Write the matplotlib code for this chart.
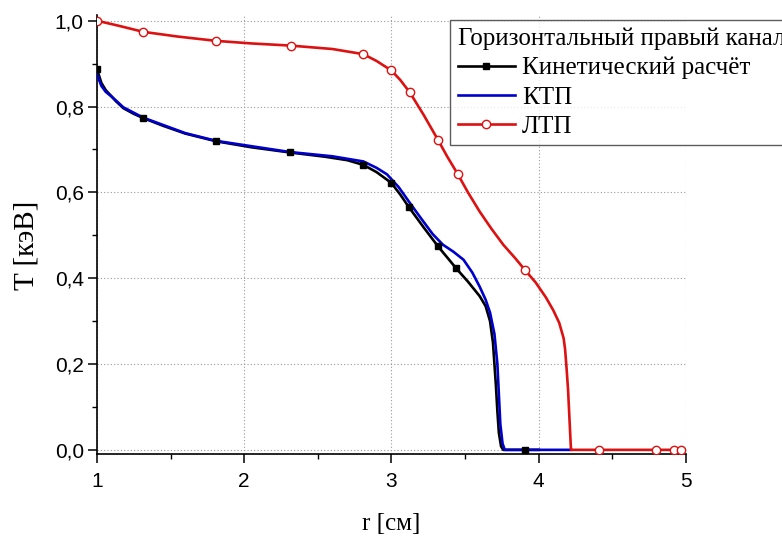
import matplotlib
matplotlib.use("Agg")
import matplotlib.pyplot as plt
from matplotlib.lines import Line2D
from matplotlib.ticker import MultipleLocator, FuncFormatter

# kinetic calculation (black)
kin_r = [1.0, 1.03, 1.06, 1.09, 1.13, 1.18, 1.25, 1.315, 1.45, 1.6, 1.81, 2.05, 2.31,
         2.55, 2.7, 2.81, 2.9, 3.0, 3.06, 3.12, 3.22, 3.317, 3.38, 3.44, 3.52, 3.6,
         3.64, 3.67, 3.69, 3.70, 3.71, 3.72, 3.73, 3.745, 3.76, 4.0]
kin_T = [0.887, 0.855, 0.838, 0.827, 0.812, 0.796, 0.783, 0.773, 0.755, 0.737, 0.719, 0.705, 0.693,
         0.683, 0.675, 0.664, 0.647, 0.622, 0.595, 0.565, 0.518, 0.474, 0.448, 0.423, 0.392, 0.358,
         0.335, 0.300, 0.250, 0.200, 0.150, 0.090, 0.040, 0.008, 0.0, 0.0]
kin_mr = [1.0, 1.315, 1.81, 2.31, 2.81, 3.0, 3.12, 3.317, 3.44, 3.91]
kin_mT = [0.887, 0.773, 0.719, 0.693, 0.664, 0.622, 0.565, 0.474, 0.423, 0.0]

# KTP (blue)
ktp_r = [1.0, 1.03, 1.06, 1.1, 1.18, 1.315, 1.6, 1.81, 2.31, 2.6, 2.81, 2.9, 2.97, 3.05,
         3.12, 3.2, 3.28, 3.35, 3.42, 3.49, 3.55, 3.6, 3.64, 3.67, 3.70, 3.72, 3.73, 3.74,
         3.755, 3.77, 4.22]
ktp_T = [0.875, 0.848, 0.834, 0.823, 0.798, 0.774, 0.738, 0.720, 0.694, 0.684, 0.672, 0.657, 0.642, 0.612,
         0.578, 0.540, 0.503, 0.478, 0.462, 0.443, 0.413, 0.380, 0.350, 0.320, 0.270, 0.200, 0.130, 0.060,
         0.015, 0.0, 0.0]

# LTP (red)
ltp_r = [1.0, 1.15, 1.315, 1.55, 1.81, 2.05, 2.315, 2.6, 2.81, 2.9, 3.0, 3.06, 3.125, 3.22,
         3.317, 3.38, 3.45, 3.52, 3.6, 3.68, 3.76, 3.84, 3.91, 3.98, 4.05, 4.1, 4.14, 4.17, 4.18,
         4.19, 4.2, 4.21, 4.22, 4.41, 4.8, 4.92, 4.97, 5.0]
ltp_T = [1.0, 0.988, 0.974, 0.963, 0.953, 0.947, 0.942, 0.934, 0.922, 0.906, 0.884, 0.862, 0.833, 0.78,
         0.722, 0.683, 0.643, 0.6, 0.555, 0.515, 0.478, 0.447, 0.418, 0.39, 0.355, 0.325, 0.296, 0.26, 0.234,
         0.19, 0.141, 0.07, 0.0, 0.0, 0.0, 0.0, 0.0, 0.0]
ltp_mr = [1.0, 1.315, 1.81, 2.315, 2.81, 3.0, 3.125, 3.317, 3.45, 3.91, 4.41, 4.8, 4.92, 4.97]
ltp_mT = [1.0, 0.974, 0.953, 0.942, 0.922, 0.884, 0.833, 0.722, 0.643, 0.418, 0.0, 0.0, 0.0, 0.0]

serif = "Liberation Serif"
sans = "Liberation Sans"

fig = plt.figure(figsize=(7.82, 5.40), dpi=100)
ax = fig.add_axes([0.124, 0.159, 0.753, 0.813])

ax.plot(kin_r, kin_T, color="black", lw=1.9, zorder=3)
ax.plot(ktp_r, ktp_T, color="#0000cc", lw=1.9, zorder=4)
ax.plot(kin_mr, kin_mT, ls="none", marker="s", ms=5, color="black", zorder=5)
ax.plot(ltp_r, ltp_T, color="#dd1111", lw=1.9, zorder=6)
ax.plot(ltp_mr, ltp_mT, ls="none", marker="o", ms=6, mfc="white", mec="#dd1111",
        mew=1.0, zorder=7)

ax.set_xlim(1, 5)
ax.set_ylim(-0.01, 1.013)
ax.xaxis.set_major_locator(MultipleLocator(1))
ax.xaxis.set_minor_locator(MultipleLocator(0.5))
ax.yaxis.set_major_locator(MultipleLocator(0.2))
ax.yaxis.set_minor_locator(MultipleLocator(0.1))
ax.yaxis.set_major_formatter(FuncFormatter(lambda v, p: f"{v:.1f}".replace(".", ",")))
ax.xaxis.set_major_formatter(FuncFormatter(lambda v, p: f"{v:.0f}"))

ax.spines["top"].set_visible(False)
ax.spines["right"].set_visible(False)
for s in ("left", "bottom"):
    ax.spines[s].set_linewidth(1.2)
ax.tick_params(which="major", direction="out", length=6.5, width=1.1, labelsize=15)
ax.tick_params(which="minor", direction="out", length=3.5, width=1.0)
for lab in ax.get_xticklabels() + ax.get_yticklabels():
    lab.set_fontfamily(sans)
ax.tick_params(axis="x", pad=6)
ax.tick_params(axis="y", pad=3)

ax.grid(True, which="major", ls=(0, (1, 2)), color="#999999", lw=0.8)
ax.set_axisbelow(True)

ax.set_xlabel("r [см]", fontfamily=serif, fontsize=18, labelpad=16)
ax.set_ylabel("T [кэВ]", fontfamily=serif, fontsize=21)
ax.yaxis.set_label_coords(-0.098, 0.475)

handles = [
    Line2D([], [], color="black", lw=1.9, marker="s", ms=5),
    Line2D([], [], color="#0000cc", lw=1.9),
    Line2D([], [], color="#dd1111", lw=1.9, marker="o", ms=6, mfc="white", mec="#dd1111"),
]
labels = ["Кинетический расчёт", "КТП", "ЛТП"]
leg = fig.legend(handles, labels, title="Горизонтальный правый канал",
                 loc="upper left", bbox_to_anchor=(450 / 782, 1 - 20 / 540),
                 prop={"family": serif, "size": 18},
                 title_fontproperties={"family": serif, "size": 18},
                 alignment="left", frameon=True, fancybox=False,
                 handlelength=2.3, handletextpad=0.28, labelspacing=0.27,
                 borderpad=0.3, borderaxespad=0)
leg.get_frame().set_edgecolor("#333333")
leg.get_frame().set_linewidth(1.0)

fig.savefig("out.png", dpi=100)
